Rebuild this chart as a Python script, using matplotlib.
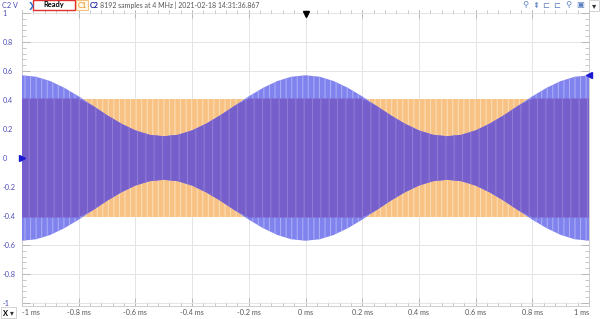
import numpy as np
import matplotlib
matplotlib.use("Agg")
import matplotlib.pyplot as plt
from matplotlib.ticker import MultipleLocator
from matplotlib.patches import Rectangle

plt.rcParams['font.family'] = ['Lato', 'DejaVu Sans']
plt.rcParams['hatch.linewidth'] = 0.8

t_ms = [-1.0, -0.95, -0.9, -0.85, -0.8, -0.75, -0.7, -0.65, -0.6, -0.55,
        -0.5, -0.45, -0.4, -0.35, -0.3, -0.25, -0.2, -0.15, -0.1, -0.05,
        0.0, 0.05, 0.1, 0.15, 0.2, 0.25, 0.3, 0.35, 0.4, 0.45,
        0.5, 0.55, 0.6, 0.65, 0.7, 0.75, 0.8, 0.85, 0.9, 0.95, 1.0]

# C2 (blue) envelope amplitude, V
c2_env = [0.57, 0.56, 0.53, 0.483, 0.425, 0.36, 0.295, 0.237, 0.19, 0.16,
          0.15, 0.16, 0.19, 0.237, 0.295, 0.36, 0.425, 0.483, 0.53, 0.56,
          0.57, 0.56, 0.53, 0.483, 0.425, 0.36, 0.295, 0.237, 0.19, 0.16,
          0.15, 0.16, 0.19, 0.237, 0.295, 0.36, 0.425, 0.483, 0.53, 0.56, 0.57]

# C1 (orange) constant amplitude, V
c1_amp = [0.41] * len(t_ms)

x_ticks = [-1, -0.8, -0.6, -0.4, -0.2, 0, 0.2, 0.4, 0.6, 0.8, 1]
x_labels = ["-1 ms", "-0.8 ms", "-0.6 ms", "-0.4 ms", "-0.2 ms", "0 ms",
            "0.2 ms", "0.4 ms", "0.6 ms", "0.8 ms", "1 ms"]
y_ticks = [1, 0.8, 0.6, 0.4, 0.2, 0, -0.2, -0.4, -0.6, -0.8, -1]
y_labels = ["1", "0.8", "0.6", "0.4", "0.2", "0", "-0.2", "-0.4", "-0.6", "-0.8", "-1"]

W, H = 600, 319
fig = plt.figure(figsize=(W / 100, H / 100), dpi=100)
fig.patch.set_facecolor("white")

def fx(px):
    return px / W

def fy(py):
    return 1 - py / H

ax = fig.add_axes([fx(22), fy(306), fx(589) - fx(22), fy(10) - fy(306)])

t = np.array(t_ms)
env = np.array(c2_env)
amp = np.array(c1_amp)
both = np.minimum(env, amp)

# orange band, blue band, overlap in purple; vertical hatch hints at the carrier
ax.fill_between(t, -amp, amp, facecolor="#f7c283", edgecolor="#fbdcb4",
                hatch="|||", lw=0, zorder=2)
ax.fill_between(t, -env, env, facecolor="#8082ee", edgecolor="#a9abf5",
                hatch="|||", lw=0, zorder=3)
ax.fill_between(t, -both, both, facecolor="#775fcb", edgecolor="#8f7ad6",
                hatch="||", lw=0, zorder=4)

ax.set_xlim(-1, 1)
ax.set_ylim(-1.02, 1.02)

ax.set_xticks(x_ticks)
ax.set_xticklabels(x_labels)
ax.set_yticks(y_ticks)
ax.set_yticklabels(y_labels)
ax.xaxis.set_minor_locator(MultipleLocator(0.04))
ax.yaxis.set_minor_locator(MultipleLocator(0.04))
ax.grid(True, which="major", color="#e4e4e4", lw=0.7, zorder=0)
ax.set_axisbelow(True)

ax.tick_params(which="both", direction="in", top=True, right=True,
               colors="#b0b0b0", labelsize=5.2)
ax.tick_params(which="major", length=6, width=0.6)
ax.tick_params(which="minor", length=3, width=0.5)
ax.tick_params(axis="y", pad=14, labelcolor="#4b4bb5")
ax.tick_params(axis="x", pad=2.5, labelcolor="#555555")
for lab in ax.get_yticklabels():
    lab.set_horizontalalignment("left")
xl = ax.get_xticklabels()
xl[0].set_horizontalalignment("left")
xl[-1].set_horizontalalignment("right")

for s in ax.spines.values():
    s.set_color("#c8c8c8")
    s.set_linewidth(0.6)
ax.spines["top"].set_visible(False)

# channel / trigger markers
ax.plot([-1], [0], marker=">", color="#1a1ad0", ms=5, clip_on=False, zorder=6)
ax.plot([1], [c2_env[-1]], marker="<", color="#1a1ad0", ms=5, clip_on=False, zorder=6)
ax.plot([0], [0.99], marker="v", color="black", ms=5, clip_on=False, zorder=6)

# top status bar
fig.text(fx(2), fy(5), "C2 V", fontsize=5.2, color="#4b4bb5", va="center")
fig.text(fx(28), fy(5), "❯", fontsize=6, color="#2f6fd0", va="center",
         weight="bold", family="DejaVu Sans")
fig.patches.append(Rectangle((fx(33), fy(10)), fx(42), fy(0) - fy(10), transform=fig.transFigure,
                             fill=False, edgecolor="#e03030", lw=1.0))
fig.text(fx(54), fy(5), "Ready", fontsize=5.4, color="black", weight="bold",
         ha="center", va="center")
fig.text(fx(82), fy(5), "C1", fontsize=5.2, color="#e88a10", va="center", ha="center",
         bbox=dict(boxstyle="square,pad=0.25", fc="#fff6e8", ec="#f0c080", lw=0.7))
fig.text(fx(89.5), fy(5), "C2", fontsize=5.2, color="#2020a0", va="center", weight="bold")
fig.text(fx(100), fy(5), "8192 samples at 4 MHz | 2021-02-18 14:31:36.867",
         fontsize=5.0, color="#555555", va="center")

# toolbar glyphs on the right
for px, g in zip([525, 536, 546, 557, 568, 580], ["⚲", "⇞", "⊏", "⊏", "⚲", "▣"]):
    fig.text(fx(px), fy(5), g, fontsize=6, color="#5a7fc0", va="center", ha="center",
             family="DejaVu Sans")
fig.patches.append(Rectangle((fx(589), fy(11)), fx(10), fy(0) - fy(11), transform=fig.transFigure,
                             fill=False, edgecolor="#cccccc", lw=0.6))
fig.text(fx(594), fy(5.5), "▾", fontsize=6, color="#333333", va="center", ha="center",
         family="DejaVu Sans")

# X selector bottom-left
fig.patches.append(Rectangle((fx(1), fy(318)), fx(15), fy(307) - fy(318), transform=fig.transFigure,
                             fill=False, edgecolor="#cccccc", lw=0.6))
fig.text(fx(2.5), fy(313), "X", fontsize=5.4, color="black", weight="bold", va="center")
fig.text(fx(10), fy(313), "▾", fontsize=5.5, color="#333333", va="center", family="DejaVu Sans")

plt.savefig("out.png", dpi=100)
